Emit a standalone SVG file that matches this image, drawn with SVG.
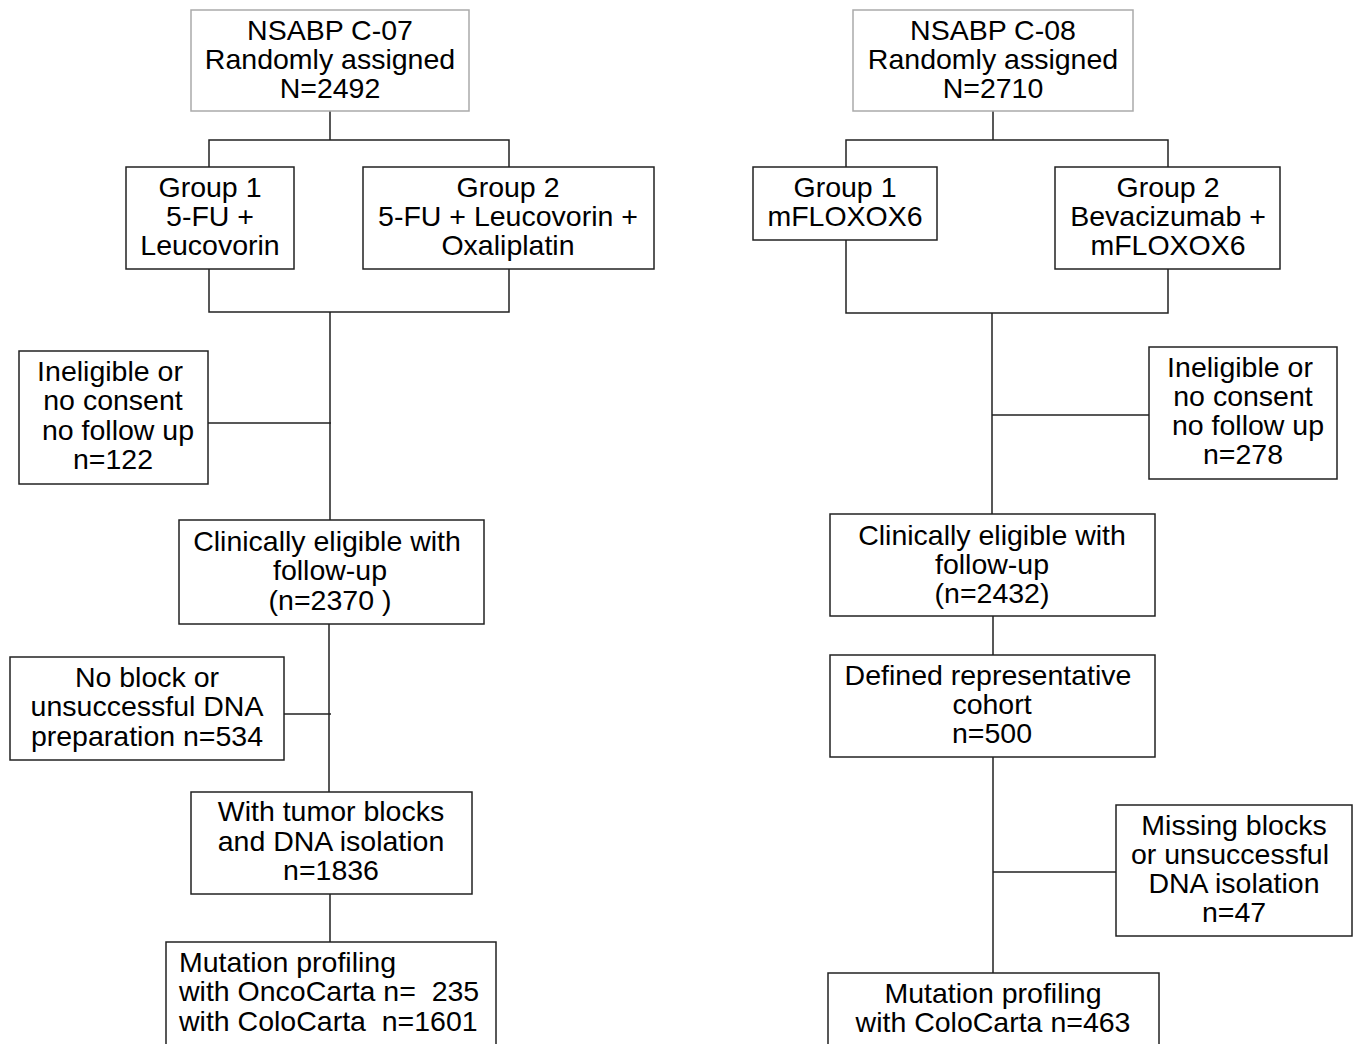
<svg xmlns="http://www.w3.org/2000/svg" width="1356" height="1044" viewBox="0 0 1356 1044">
<style>
.b{fill:#fff;stroke:#222;stroke-width:1.5}
.g{fill:#fff;stroke:#aaa;stroke-width:1.5}
.l{fill:none;stroke:#222;stroke-width:1.5}
text{font-family:"Liberation Sans",Arial,sans-serif;font-size:28.5px;fill:#000;text-anchor:middle}
.la{text-anchor:start}
</style>
<rect width="1356" height="1044" fill="#fff"/>
<g id="connectors">
<path class="l" d="M330 111V140M209 167V140H509V167M209 269V312H509V269M330 312V520M208 423H331M329 624V792M284 714H331M330 894V942"/>
<path class="l" d="M993 111V140M846 167V140H1168V167M846 240V313H1168V269M992 313V514M992 415H1149M993 616V655M993 757V973M993 872H1116"/>
</g>
<g id="c07"><rect class="g" x="191" y="10" width="278" height="101"/><text x="330" y="40">NSABP C-07</text><text x="330" y="69">Randomly assigned</text><text x="330" y="98">N=2492</text></g>
<g id="l-group1"><rect class="b" x="126" y="167" width="168" height="102"/><text x="210" y="197">Group 1</text><text x="210" y="226">5-FU +</text><text x="210" y="255">Leucovorin</text></g>
<g id="l-group2"><rect class="b" x="363" y="167" width="291" height="102"/><text x="508" y="197">Group 2</text><text x="508" y="226">5-FU + Leucovorin +</text><text x="508" y="255">Oxaliplatin</text></g>
<g id="l-inelig"><rect class="b" x="19" y="351" width="189" height="133"/><text x="110" y="381">Ineligible or</text><text x="113" y="410">no consent</text><text x="118" y="440">no follow up</text><text x="113" y="469">n=122</text></g>
<g id="l-clin"><rect class="b" x="179" y="520" width="305" height="104"/><text x="327" y="551">Clinically eligible with</text><text x="330" y="580">follow-up</text><text x="330" y="610" xml:space="preserve">(n=2370 )</text></g>
<g id="l-noblock"><rect class="b" x="10" y="657" width="274" height="103"/><text x="147" y="687">No block or</text><text x="147" y="716">unsuccessful DNA</text><text x="147" y="746">preparation n=534</text></g>
<g id="l-tumor"><rect class="b" x="191" y="792" width="281" height="102"/><text x="331" y="821">With tumor blocks</text><text x="331" y="851">and DNA isolation</text><text x="331" y="880">n=1836</text></g>
<g id="l-mut"><rect class="b" x="166" y="942" width="330" height="110"/><text class="la" x="179" y="972">Mutation profiling</text><text class="la" x="179" y="1001" xml:space="preserve">with OncoCarta n=  235</text><text class="la" x="179" y="1031" xml:space="preserve">with ColoCarta  n=1601</text></g>
<g id="c08"><rect class="g" x="853" y="10" width="280" height="101"/><text x="993" y="40">NSABP C-08</text><text x="993" y="69">Randomly assigned</text><text x="993" y="98">N=2710</text></g>
<g id="r-group1"><rect class="b" x="753" y="167" width="184" height="73"/><text x="845" y="197">Group 1</text><text x="845" y="226">mFLOXOX6</text></g>
<g id="r-group2"><rect class="b" x="1055" y="167" width="225" height="102"/><text x="1168" y="197">Group 2</text><text x="1168" y="226">Bevacizumab +</text><text x="1168" y="255">mFLOXOX6</text></g>
<g id="r-inelig"><rect class="b" x="1149" y="347" width="188" height="132"/><text x="1240" y="377">Ineligible or</text><text x="1243" y="406">no consent</text><text x="1248" y="435">no follow up</text><text x="1243" y="464">n=278</text></g>
<g id="r-clin"><rect class="b" x="830" y="514" width="325" height="102"/><text x="992" y="545">Clinically eligible with</text><text x="992" y="574">follow-up</text><text x="992" y="603">(n=2432)</text></g>
<g id="r-cohort"><rect class="b" x="830" y="655" width="325" height="102"/><text x="988" y="685">Defined representative</text><text x="992" y="714">cohort</text><text x="992" y="743">n=500</text></g>
<g id="r-missing"><rect class="b" x="1116" y="805" width="236" height="131"/><text x="1234" y="835">Missing blocks</text><text x="1230" y="864">or unsuccessful</text><text x="1234" y="893">DNA isolation</text><text x="1234" y="922">n=47</text></g>
<g id="r-mut"><rect class="b" x="828" y="973" width="331" height="80"/><text x="993" y="1003">Mutation profiling</text><text x="993" y="1032">with ColoCarta n=463</text></g>
</svg>
